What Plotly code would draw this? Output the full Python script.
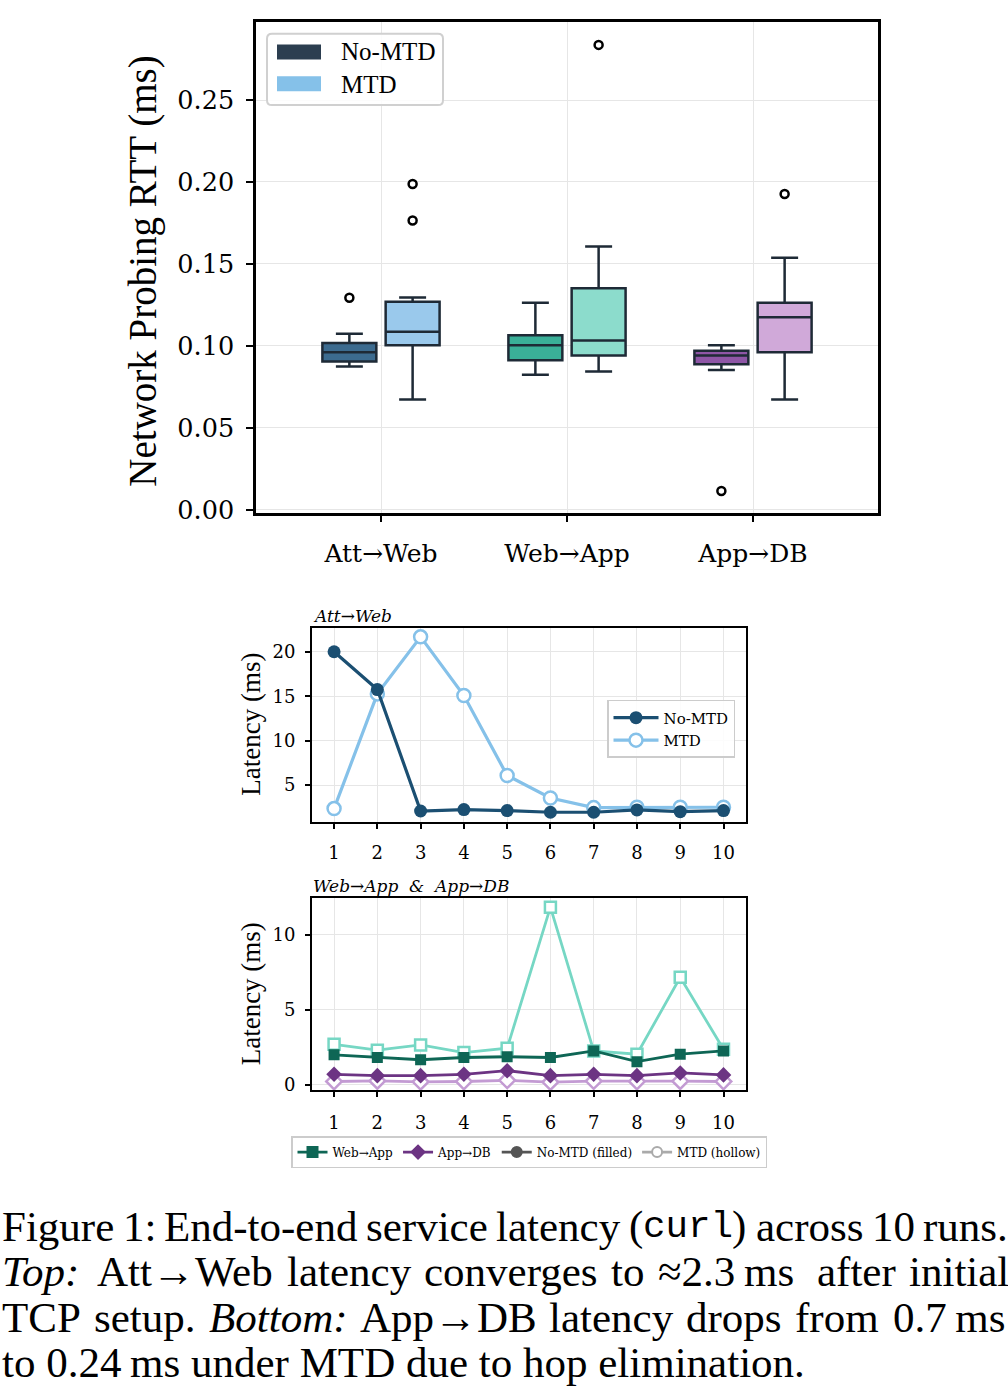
import plotly.graph_objects as go

W, H = 1008, 1387

# ---------------- data ----------------
categories = ["Att→Web", "Web→App", "App→DB"]

nomtd_lo = [0.0874, 0.0823, 0.0852]
nomtd_q1 = [0.0904, 0.0912, 0.0888]
nomtd_med = [0.0960, 0.1003, 0.0940]
nomtd_q3 = [0.1017, 0.1065, 0.0970]
nomtd_hi = [0.1073, 0.1263, 0.1003]
nomtd_outliers = [[0.1293], [], [0.0113]]

mtd_lo = [0.0672, 0.0843, 0.0672]
mtd_q1 = [0.1003, 0.0940, 0.0960]
mtd_med = [0.1085, 0.1033, 0.1174]
mtd_q3 = [0.1269, 0.1352, 0.1263]
mtd_hi = [0.1295, 0.1606, 0.1538]
mtd_outliers = [[0.1988, 0.1765], [0.2837], [0.1927]]

runs = [1, 2, 3, 4, 5, 6, 7, 8, 9, 10]
att_web_nomtd = [20.0, 15.75, 2.08, 2.24, 2.13, 1.94, 1.94, 2.2, 2.0, 2.13]
att_web_mtd = [2.35, 15.26, 21.68, 15.07, 6.08, 3.54, 2.46, 2.5, 2.5, 2.5]

web_app_nomtd = [2.0, 1.82, 1.67, 1.82, 1.87, 1.82, 2.26, 1.54, 2.04, 2.26]
web_app_mtd = [2.70, 2.31, 2.66, 2.15, 2.44, 11.84, 2.26, 2.04, 7.16, 2.37]
app_db_nomtd = [0.70, 0.61, 0.61, 0.70, 0.94, 0.61, 0.70, 0.61, 0.79, 0.66]
app_db_mtd = [0.22, 0.26, 0.20, 0.22, 0.30, 0.18, 0.25, 0.22, 0.24, 0.22]

nomtd_fill = ["#3c6b8f", "#3aaf98", "#8e56a6"]
mtd_fill = ["#9ac9ec", "#8cdccc", "#d0a9d9"]

# ---------------- helpers ----------------
def px_x(p):
    return p / W

def px_y(p):
    return 1 - p / H

SERIF = "DejaVu Serif"
TIMES = "Liberation Serif"
MONO = "Liberation Mono, Courier New, monospace"

fig = go.Figure()

# ---------------- top: box plot ----------------
off = 0.17
for i, cat in enumerate(categories):
    fig.add_trace(go.Box(
        x=[i - off], q1=[nomtd_q1[i]], median=[nomtd_med[i]], q3=[nomtd_q3[i]],
        lowerfence=[nomtd_lo[i]], upperfence=[nomtd_hi[i]],
        width=0.29, whiskerwidth=0.5, boxpoints=False,
        fillcolor=nomtd_fill[i], line=dict(color="#1e2a36", width=2.5),
        showlegend=False, xaxis="x", yaxis="y", hoverinfo="skip"))
    fig.add_trace(go.Box(
        x=[i + off], q1=[mtd_q1[i]], median=[mtd_med[i]], q3=[mtd_q3[i]],
        lowerfence=[mtd_lo[i]], upperfence=[mtd_hi[i]],
        width=0.29, whiskerwidth=0.5, boxpoints=False,
        fillcolor=mtd_fill[i], line=dict(color="#1e2a36", width=2.5),
        showlegend=False, xaxis="x", yaxis="y", hoverinfo="skip"))
    if nomtd_outliers[i]:
        fig.add_trace(go.Scatter(
            x=[i - off] * len(nomtd_outliers[i]), y=nomtd_outliers[i], mode="markers",
            marker=dict(symbol="circle-open", size=8, color="black", line=dict(width=2.5)),
            showlegend=False, xaxis="x", yaxis="y"))
    if mtd_outliers[i]:
        fig.add_trace(go.Scatter(
            x=[i + off] * len(mtd_outliers[i]), y=mtd_outliers[i], mode="markers",
            marker=dict(symbol="circle-open", size=8, color="black", line=dict(width=2.5)),
            showlegend=False, xaxis="x", yaxis="y"))

# ---------------- middle: Att->Web ----------------
fig.add_trace(go.Scatter(
    x=runs, y=att_web_mtd, mode="lines+markers", name="MTD",
    line=dict(color="#85c1e9", width=3.2),
    marker=dict(symbol="circle", size=13, color="white", line=dict(color="#85c1e9", width=2.5)),
    xaxis="x2", yaxis="y2", legend="legend2", legendrank=2))
fig.add_trace(go.Scatter(
    x=runs, y=att_web_nomtd, mode="lines+markers", name="No-MTD",
    line=dict(color="#1b4f72", width=3.2),
    marker=dict(symbol="circle", size=13, color="#1b4f72"),
    xaxis="x2", yaxis="y2", legend="legend2", legendrank=1))

# ---------------- bottom: Web->App & App->DB ----------------
fig.add_trace(go.Scatter(
    x=runs, y=web_app_mtd, mode="lines+markers", showlegend=False,
    line=dict(color="#76d7c4", width=2.8),
    marker=dict(symbol="square", size=11, color="white", line=dict(color="#76d7c4", width=2.5)),
    xaxis="x3", yaxis="y3"))
fig.add_trace(go.Scatter(
    x=runs, y=app_db_mtd, mode="lines+markers", showlegend=False,
    line=dict(color="#c39bd3", width=2.8),
    marker=dict(symbol="diamond", size=12, color="white", line=dict(color="#c39bd3", width=2.5)),
    xaxis="x3", yaxis="y3"))
fig.add_trace(go.Scatter(
    x=runs, y=web_app_nomtd, mode="lines+markers", showlegend=False,
    line=dict(color="#0e6655", width=2.8),
    marker=dict(symbol="square", size=11, color="#0e6655"),
    xaxis="x3", yaxis="y3"))
fig.add_trace(go.Scatter(
    x=runs, y=app_db_nomtd, mode="lines+markers", showlegend=False,
    line=dict(color="#6c3483", width=2.8),
    marker=dict(symbol="diamond", size=12, color="#6c3483"),
    xaxis="x3", yaxis="y3"))

# legend proxies
proxies = [
    ("Web→App", "#0e6655", "square", "#0e6655"),
    ("App→DB", "#6c3483", "diamond", "#6c3483"),
    ("No-MTD (filled)", "#555555", "circle", "#555555"),
    ("MTD (hollow)", "#aaaaaa", "circle", "white"),
]
for name, col, sym, fillc in proxies:
    fig.add_trace(go.Scatter(
        x=[None], y=[None], mode="lines+markers", name=name,
        line=dict(color=col, width=2.8),
        marker=dict(symbol=sym, size=10, color=fillc, line=dict(color=col, width=2)),
        xaxis="x3", yaxis="y3", legend="legend3"))

# ---------------- axes ----------------
grid = "#e6e6e6"
common_line = dict(showline=True, mirror=True, linecolor="black", ticks="outside",
                   tickcolor="black", showgrid=True, gridcolor=grid, gridwidth=1, zeroline=False)

fig.update_layout(
    width=W, height=H, margin=dict(l=0, r=0, t=0, b=0),
    paper_bgcolor="white", plot_bgcolor="white",
    showlegend=True,
    xaxis=dict(domain=[px_x(256), px_x(878)], anchor="y", range=[-0.672, 2.672],
               tickmode="array", tickvals=[0, 1, 2], ticktext=categories,
               linewidth=2.5, ticklen=7, tickwidth=2.2, ticklabelstandoff=10,
               tickfont=dict(family=SERIF, size=25, color="black"), **common_line),
    yaxis=dict(domain=[px_y(517), px_y(22)], anchor="x", range=[-0.0018, 0.2978],
               tickmode="array", tickvals=[0, 0.05, 0.10, 0.15, 0.20, 0.25],
               ticktext=["0.00", "0.05", "0.10", "0.15", "0.20", "0.25"],
               linewidth=2.5, ticklen=7, tickwidth=2.2, ticklabelstandoff=7,
               tickfont=dict(family=SERIF, size=25.5, color="black"), **common_line),
    xaxis2=dict(domain=[px_x(312), px_x(746)], anchor="y2", range=[0.49, 10.52],
                tickmode="array", tickvals=runs, linewidth=1.8, ticklen=5, tickwidth=1.5,
                ticklabelstandoff=9,
                tickfont=dict(family=SERIF, size=18, color="black"), **common_line),
    yaxis2=dict(domain=[px_y(829), px_y(633)], anchor="x2", range=[0.86, 22.73],
                tickmode="array", tickvals=[5, 10, 15, 20], linewidth=1.8, ticklen=5, tickwidth=1.5,
                ticklabelstandoff=6,
                tickfont=dict(family=SERIF, size=18, color="black"), **common_line),
    xaxis3=dict(domain=[px_x(312), px_x(746)], anchor="y3", range=[0.49, 10.52],
                tickmode="array", tickvals=runs, linewidth=1.8, ticklen=5, tickwidth=1.5,
                ticklabelstandoff=10,
                tickfont=dict(family=SERIF, size=18, color="black"), **common_line),
    yaxis3=dict(domain=[px_y(1100), px_y(906)], anchor="x3", range=[-0.38, 12.44],
                tickmode="array", tickvals=[0, 5, 10], linewidth=1.8, ticklen=5, tickwidth=1.5,
                ticklabelstandoff=6,
                tickfont=dict(family=SERIF, size=18, color="black"), **common_line),
    legend2=dict(x=px_x(607), y=px_y(706), xanchor="left", yanchor="top",
                 bgcolor="rgba(255,255,255,0.85)", bordercolor="#cccccc", borderwidth=1.5,
                 font=dict(family=SERIF, size=15, color="black"), itemwidth=45,
                 tracegroupgap=0),
    legend3=dict(x=px_x(291), y=px_y(1146), xanchor="left", yanchor="top", orientation="h",
                 bgcolor="rgba(255,255,255,0.85)", bordercolor="#cccccc", borderwidth=1.5,
                 font=dict(family=SERIF, size=12, color="black"), itemwidth=30),
)

# ---------------- top legend (drawn) ----------------
def rounded(x0, y0, x1, y1, r):
    X0, X1 = px_x(x0), px_x(x1)
    Y0, Y1 = px_y(y0), px_y(y1)
    rx, ry = r / W, r / H
    return (f"M {X0+rx},{Y0} L {X1-rx},{Y0} Q {X1},{Y0} {X1},{Y0-ry} "
            f"L {X1},{Y1+ry} Q {X1},{Y1} {X1-rx},{Y1} L {X0+rx},{Y1} "
            f"Q {X0},{Y1} {X0},{Y1+ry} L {X0},{Y0-ry} Q {X0},{Y0} {X0+rx},{Y0} Z")

shapes = [
    dict(type="path", xref="paper", yref="paper", path=rounded(267, 34, 443, 106, 5),
         line=dict(color="#d0d0d0", width=2), fillcolor="rgba(255,255,255,0.85)", layer="above"),
    dict(type="rect", xref="paper", yref="paper", x0=px_x(277), x1=px_x(321), y0=px_y(45), y1=px_y(60),
         line=dict(width=0), fillcolor="#2c3e50", layer="above"),
    dict(type="rect", xref="paper", yref="paper", x0=px_x(277), x1=px_x(321), y0=px_y(77), y1=px_y(92),
         line=dict(width=0), fillcolor="#85c1e9", layer="above"),
]
fig.update_layout(shapes=shapes)

ann = []
def text(x, y, s, size, family=TIMES, xanchor="left", yanchor="middle", angle=0, color="black"):
    ann.append(dict(xref="paper", yref="paper", x=px_x(x), y=px_y(y), text=s, showarrow=False,
                    xanchor=xanchor, yanchor=yanchor, textangle=angle,
                    font=dict(family=family, size=size, color=color)))

text(339, 52, "No-MTD", 25)
text(339, 85, "MTD", 25)

# axis titles
text(143, 274, "Network Probing RTT (ms)", 39, xanchor="center", angle=-90)
text(251, 731, "Latency (ms)", 27, xanchor="center", angle=-90)
text(251, 1003, "Latency (ms)", 27, xanchor="center", angle=-90)

# subplot titles
text(311, 621, "<i>Att→Web</i>", 17, family=SERIF)
text(311, 894, "<i>Web→App  &amp;  App→DB</i>", 17, family=SERIF)

# caption (justified lines placed word by word)
CAP = 43
line1 = [("Figure", 0), ("1:", 121), ("End-to-end", 162), ("service", 364), ("latency", 494),
         ("(", 627), (")", 730), ("across", 754), ("10", 870), ("runs.", 921)]
for w, x in line1:
    text(x, 1237, w, CAP)
text(641, 1238, "curl", 37.5, family=MONO)
line2 = [("<i>Top:</i>", 0), ("Att→Web", 95), ("latency", 285), ("converges", 422), ("to", 609),
         ("≈2.3\u2009ms", 656), ("after", 815), ("initial", 907)]
for w, x in line2:
    text(x, 1283, w, CAP)
line3 = [("TCP", 0), ("setup.", 92), ("<i>Bottom:</i>", 207), ("App→DB", 358), ("latency", 547),
         ("drops", 684), ("from", 793), ("0.7\u2009ms", 891)]
for w, x in line3:
    text(x, 1329, w, CAP)
text(0, 1374, "to 0.24\u2009ms under MTD due to hop elimination.", CAP)

fig.update_layout(annotations=ann)

fig.write_html("out.html")
